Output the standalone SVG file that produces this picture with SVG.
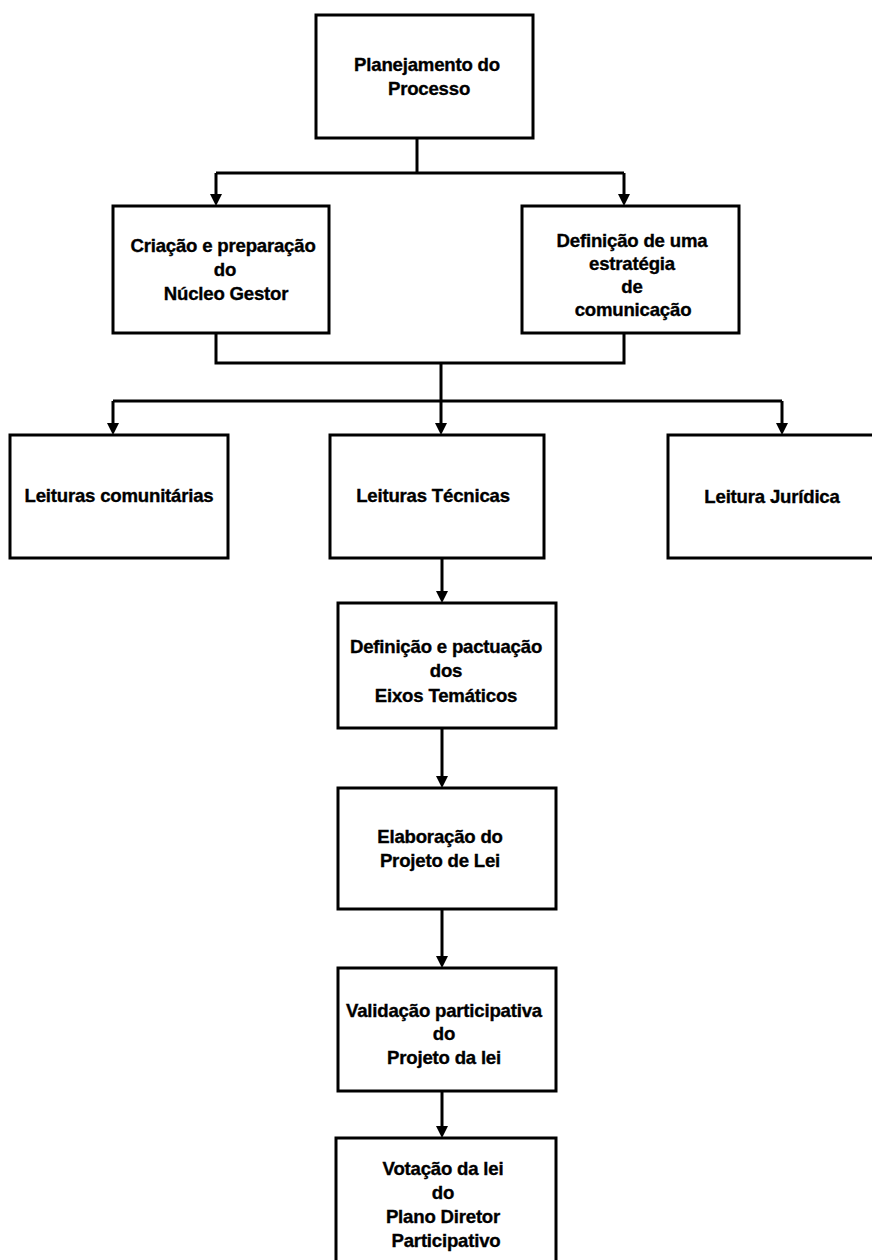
<svg xmlns="http://www.w3.org/2000/svg" width="872" height="1260" viewBox="0 0 872 1260">
<style>
.box{fill:#fff;stroke:#000;stroke-width:3}
.t{font-family:"Liberation Sans",Arial,sans-serif;font-weight:bold;font-size:18.6px;fill:#000;stroke:#000;stroke-width:0.35;text-anchor:middle;letter-spacing:-0.2px}
.c{fill:none;stroke:#000;stroke-width:3}
</style>
<defs>
<marker id="ah" markerUnits="userSpaceOnUse" markerWidth="14" markerHeight="14" refX="2" refY="6" orient="auto" viewBox="0 0 14 12">
<path d="M0,0 L12,6 L0,12 Z" fill="#000"/>
</marker>
</defs>
<rect width="872" height="1260" fill="#fff"/>
<g id="connectors">
<path class="c" d="M417,138 V173"/>
<path class="c" d="M216,173 H624"/>
<path class="c" d="M216,173 V196" marker-end="url(#ah)"/>
<path class="c" d="M624,173 V196" marker-end="url(#ah)"/>
<path class="c" d="M216,333 V363 H624 V333"/>
<path class="c" d="M441,363 V401"/>
<path class="c" d="M113,401 H782"/>
<path class="c" d="M113,401 V425" marker-end="url(#ah)"/>
<path class="c" d="M441,401 V425" marker-end="url(#ah)"/>
<path class="c" d="M782,401 V425" marker-end="url(#ah)"/>
<path class="c" d="M442,558 V593" marker-end="url(#ah)"/>
<path class="c" d="M442,728 V778" marker-end="url(#ah)"/>
<path class="c" d="M442,909 V958" marker-end="url(#ah)"/>
<path class="c" d="M442,1091 V1128" marker-end="url(#ah)"/>
</g>
<g id="n1">
<rect class="box" x="316" y="15" width="217" height="123"/>
<text class="t" x="427" y="71">Planejamento do</text>
<text class="t" x="429" y="95">Processo</text>
</g>
<g id="n2">
<rect class="box" x="113" y="206" width="216" height="127"/>
<text class="t" x="223" y="252">Criação e preparação</text>
<text class="t" x="225" y="276">do</text>
<text class="t" x="226" y="300">Núcleo Gestor</text>
</g>
<g id="n3">
<rect class="box" x="522" y="206" width="217" height="127"/>
<text class="t" x="632" y="247">Definição de uma</text>
<text class="t" x="632" y="270">estratégia</text>
<text class="t" x="632" y="293">de</text>
<text class="t" x="633" y="316">comunicação</text>
</g>
<g id="n4">
<rect class="box" x="10" y="435" width="218" height="123"/>
<text class="t" x="119" y="502">Leituras comunitárias</text>
</g>
<g id="n5">
<rect class="box" x="330" y="435" width="214" height="123"/>
<text class="t" x="433" y="502">Leituras Técnicas</text>
</g>
<g id="n6">
<rect class="box" x="668" y="435" width="217" height="123"/>
<text class="t" x="772" y="503">Leitura Jurídica</text>
</g>
<g id="n7">
<rect class="box" x="338" y="603" width="218" height="125"/>
<text class="t" x="446" y="653">Definição e pactuação</text>
<text class="t" x="446" y="677">dos</text>
<text class="t" x="446" y="702">Eixos Temáticos</text>
</g>
<g id="n8">
<rect class="box" x="338" y="788" width="218" height="121"/>
<text class="t" x="440" y="843">Elaboração do</text>
<text class="t" x="440" y="867">Projeto de Lei</text>
</g>
<g id="n9">
<rect class="box" x="338" y="968" width="218" height="123"/>
<text class="t" x="444" y="1017">Validação participativa</text>
<text class="t" x="444" y="1040">do</text>
<text class="t" x="444" y="1064">Projeto da lei</text>
</g>
<g id="n10">
<rect class="box" x="336" y="1138" width="220" height="140"/>
<text class="t" x="443" y="1175">Votação da lei</text>
<text class="t" x="443" y="1199">do</text>
<text class="t" x="443" y="1223">Plano Diretor</text>
<text class="t" x="446" y="1247">Participativo</text>
</g>
</svg>
